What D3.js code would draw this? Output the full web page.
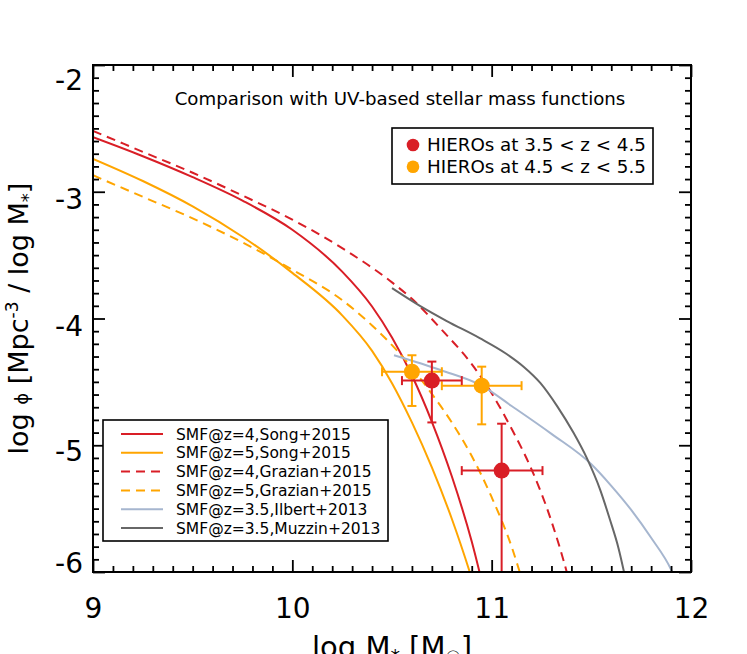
<!DOCTYPE html>
<html><head><meta charset="utf-8">
<script src="https://cdn.jsdelivr.net/npm/d3@7"></script>
<style>
body{margin:0;background:#fff}
svg{display:block}
text{font-family:"DejaVu Sans","Liberation Sans",sans-serif;fill:#000}
</style>
</head><body>
<svg id="chart" width="747" height="654"></svg>
<script>
// ---------------- data ----------------
const xTicks = [9, 10, 11, 12];
const yTicks = [-2, -3, -4, -5, -6];

// SMF@z=4, Song+2015 (red solid)
const songZ4 = [[9.0,-2.57],[9.25,-2.72],[9.5,-2.885],[9.75,-3.07],[10.0,-3.30],[10.25,-3.63],[10.4,-3.905],[10.5,-4.15],[10.6,-4.45],[10.7,-4.815],[10.8,-5.245],[10.9,-5.76],[10.95,-6.07]];
// SMF@z=5, Song+2015 (orange solid)
const songZ5 = [[9.0,-2.74],[9.25,-2.915],[9.5,-3.115],[9.75,-3.355],[10.0,-3.64],[10.25,-3.975],[10.4,-4.255],[10.5,-4.51],[10.6,-4.82],[10.7,-5.175],[10.8,-5.58],[10.89,-6.0],[10.91,-6.1]];
// SMF@z=4, Grazian+2015 (red dashed)
const grazianZ4 = [[9.0,-2.52],[9.25,-2.685],[9.5,-2.85],[9.75,-3.03],[10.0,-3.22],[10.25,-3.445],[10.5,-3.715],[10.6,-3.845],[10.75,-4.09],[10.9,-4.36],[11.0,-4.59],[11.1,-4.87],[11.2,-5.19],[11.3,-5.6],[11.38,-6.02],[11.39,-6.08]];
// SMF@z=5, Grazian+2015 (orange dashed)
const grazianZ5 = [[9.0,-2.87],[9.25,-3.04],[9.5,-3.21],[9.75,-3.40],[10.0,-3.615],[10.25,-3.855],[10.4,-4.055],[10.5,-4.21],[10.6,-4.39],[10.7,-4.595],[10.8,-4.82],[10.9,-5.085],[11.0,-5.41],[11.1,-5.80],[11.16,-6.1]];
// SMF@z=3.5, Ilbert+2013 (light blue-grey)
const ilbertZ35 = [[10.51,-4.29],[10.75,-4.41],[10.95,-4.53],[11.1,-4.69],[11.3,-4.91],[11.5,-5.15],[11.6,-5.32],[11.7,-5.51],[11.8,-5.73],[11.9,-5.98],[11.92,-6.05]];
// SMF@z=3.5, Muzzin+2013 (dark grey)
const muzzinZ35 = [[10.5,-3.76],[10.64,-3.90],[10.775,-4.02],[10.94,-4.155],[11.075,-4.28],[11.16,-4.38],[11.245,-4.51],[11.33,-4.695],[11.41,-4.9],[11.477,-5.1],[11.544,-5.35],[11.594,-5.59],[11.636,-5.81],[11.664,-6.0],[11.675,-6.08]];

// HIEROs points: [logM, logPhi, xLo, xHi, yLo, yHi]
const hierosZ4 = [[10.70,-4.49,10.55,10.85,-4.82,-4.34],[11.05,-5.20,10.85,11.255,-6.6,-4.83]];
const hierosZ5 = [[10.60,-4.42,10.45,10.75,-4.69,-4.29],[10.95,-4.53,10.75,11.15,-4.835,-4.38]];

const curveNames = ["SMF@z=4,Song+2015","SMF@z=5,Song+2015","SMF@z=4,Grazian+2015","SMF@z=5,Grazian+2015","SMF@z=3.5,Ilbert+2013","SMF@z=3.5,Muzzin+2013"];
const pointNames = ["HIEROs at 3.5 < z < 4.5","HIEROs at 4.5 < z < 5.5"];
const titleText = "Comparison with UV-based stellar mass functions";

// ---------------- styling ----------------
const RED = "#d91e26", ORANGE = "#ffa500", BLUE = "#a6b6cf", GREY = "#676767";
const curves = [
  {data: songZ4, color: RED, dash: null},
  {data: songZ5, color: ORANGE, dash: null},
  {data: grazianZ4, color: RED, dash: "9,6"},
  {data: grazianZ5, color: ORANGE, dash: "9,6"},
  {data: ilbertZ35, color: BLUE, dash: null},
  {data: muzzinZ35, color: GREY, dash: null}
];

const svg = d3.select("#chart");
const L = 93, R = 691, T = 65, B = 572;
const x = d3.scaleLinear().domain([9, 12]).range([L, R]);
const y = d3.scaleLinear().domain([-6, -2]).range([B, T]);

svg.append("defs").append("clipPath").attr("id", "clip")
  .append("rect").attr("x", L).attr("y", T).attr("width", R - L).attr("height", B - T);

const plot = svg.append("g").attr("clip-path", "url(#clip)");
const line = d3.line().x(d => x(d[0])).y(d => y(d[1])).curve(d3.curveMonotoneX);

curves.forEach(c => {
  plot.append("path").attr("d", line(c.data)).attr("fill", "none")
    .attr("stroke", c.color).attr("stroke-width", 2)
    .attr("stroke-dasharray", c.dash);
});

// error bars + points
function drawPoints(arr, color) {
  arr.forEach(p => {
    const g = plot.append("g").attr("stroke", color).attr("stroke-width", 2);
    const cx = x(p[0]), cy = y(p[1]);
    g.append("line").attr("x1", x(p[2])).attr("x2", x(p[3])).attr("y1", cy).attr("y2", cy);
    g.append("line").attr("x1", cx).attr("x2", cx).attr("y1", y(p[4])).attr("y2", y(p[5]));
    [p[2], p[3]].forEach(v => g.append("line").attr("x1", x(v)).attr("x2", x(v)).attr("y1", cy - 4.5).attr("y2", cy + 4.5));
    [p[4], p[5]].forEach(v => g.append("line").attr("x1", cx - 4.5).attr("x2", cx + 4.5).attr("y1", y(v)).attr("y2", y(v)));
  });
  arr.forEach(p => {
    plot.append("circle").attr("cx", x(p[0])).attr("cy", y(p[1])).attr("r", 8).attr("fill", color);
  });
}
drawPoints(hierosZ5, ORANGE);
drawPoints(hierosZ4, RED);

// ---------------- axes ----------------
const xMinor = d3.range(9, 12.0001, 0.1).map(v => +v.toFixed(1)).filter(v => !xTicks.includes(v));
const yMinor = d3.range(-6, -1.9999, 0.1).map(v => +v.toFixed(1)).filter(v => !yTicks.includes(v));

function styleAxis(g) {
  g.select(".domain").remove();
  g.selectAll("line").attr("stroke", "#000").attr("stroke-width", 1.8);
}
// bottom
svg.append("g").attr("transform", `translate(0,${B})`)
  .call(d3.axisBottom(x).tickValues(xMinor).tickSize(-6).tickFormat("")).call(styleAxis);
const xb = svg.append("g").attr("transform", `translate(0,${B})`)
  .call(d3.axisBottom(x).tickValues(xTicks).tickSize(-12).tickPadding(26).tickFormat(d3.format("d"))).call(styleAxis);
xb.selectAll("text").attr("font-size", 28).attr("font-family", "DejaVu Sans");
// top
svg.append("g").attr("transform", `translate(0,${T})`)
  .call(d3.axisTop(x).tickValues(xMinor).tickSize(-6).tickFormat("")).call(styleAxis);
svg.append("g").attr("transform", `translate(0,${T})`)
  .call(d3.axisTop(x).tickValues(xTicks).tickSize(-12).tickFormat("")).call(styleAxis);
// left
svg.append("g").attr("transform", `translate(${L},0)`)
  .call(d3.axisLeft(y).tickValues(yMinor).tickSize(-6).tickFormat("")).call(styleAxis);
const yl = svg.append("g").attr("transform", `translate(${L},0)`)
  .call(d3.axisLeft(y).tickValues(yTicks).tickSize(-12).tickPadding(10).tickFormat(d => String(d))).call(styleAxis);
const yOff = {"-2": 16, "-3": 8, "-4": 8, "-5": 6, "-6": -8};
yl.selectAll("text").attr("font-size", 28).attr("font-family", "DejaVu Sans")
  .attr("y", d => yOff[String(d)]).attr("dy", "0.32em");
// right
svg.append("g").attr("transform", `translate(${R},0)`)
  .call(d3.axisRight(y).tickValues(yMinor).tickSize(-6).tickFormat("")).call(styleAxis);
svg.append("g").attr("transform", `translate(${R},0)`)
  .call(d3.axisRight(y).tickValues(yTicks).tickSize(-12).tickFormat("")).call(styleAxis);

// frame
svg.append("rect").attr("x", L).attr("y", T).attr("width", R - L).attr("height", B - T)
  .attr("fill", "none").attr("stroke", "#000").attr("stroke-width", 2);

// ---------------- texts ----------------
svg.append("text").attr("x", 400).attr("y", 105).attr("text-anchor", "middle")
  .attr("font-size", 18.2).text(titleText);

// x label (partly below the picture's edge, as in the reference)
const xl = svg.append("text").attr("x", (L + R) / 2).attr("y", 657).attr("text-anchor", "middle").attr("font-size", 29);
xl.append("tspan").text("log M");
xl.append("tspan").attr("font-size", 19).attr("dy", 6).text("*");
xl.append("tspan").attr("dy", -6).text(" [M");
xl.append("tspan").attr("font-size", 17).attr("dy", 6).text("\u2609");
xl.append("tspan").attr("dy", -6).text("]");

// y label
const ylab = svg.append("text").attr("transform", `translate(28,${(T + B) / 2}) rotate(-90)`)
  .attr("text-anchor", "middle").attr("font-size", 27);
ylab.append("tspan").text("log ");
ylab.append("tspan").attr("font-size", 18).text("\u03d5");
ylab.append("tspan").text(" [Mpc");
ylab.append("tspan").attr("font-size", 17).attr("dy", -10).text("-3");
ylab.append("tspan").attr("dy", 10).text(" / log M");
ylab.append("tspan").attr("font-size", 18).attr("dy", 6).text("*");
ylab.append("tspan").attr("dy", -6).text("]");

// legend 1 (points)
const lg1 = svg.append("g");
lg1.append("rect").attr("x", 392).attr("y", 128).attr("width", 261).attr("height", 56)
  .attr("fill", "#fff").attr("stroke", "#000").attr("stroke-width", 1.6);
pointNames.forEach((n, i) => {
  const yy = 145 + i * 21.7;
  lg1.append("circle").attr("cx", 413).attr("cy", yy).attr("r", 6.3).attr("fill", i === 0 ? RED : ORANGE);
  lg1.append("text").attr("x", 427).attr("y", yy + 6).attr("font-size", 18.3).text(n);
});

// legend 2 (curves)
const lg2 = svg.append("g");
lg2.append("rect").attr("x", 103).attr("y", 420).attr("width", 285).attr("height", 121)
  .attr("fill", "#fff").attr("stroke", "#000").attr("stroke-width", 1.6);
curveNames.forEach((n, i) => {
  const yy = 434 + i * 18.8;
  lg2.append("line").attr("x1", 121).attr("x2", 163).attr("y1", yy).attr("y2", yy)
    .attr("stroke", curves[i].color).attr("stroke-width", 2).attr("stroke-dasharray", curves[i].dash);
  lg2.append("text").attr("x", 176).attr("y", yy + 5.5).attr("font-size", 15.5).text(n);
});
</script>
</body></html>
